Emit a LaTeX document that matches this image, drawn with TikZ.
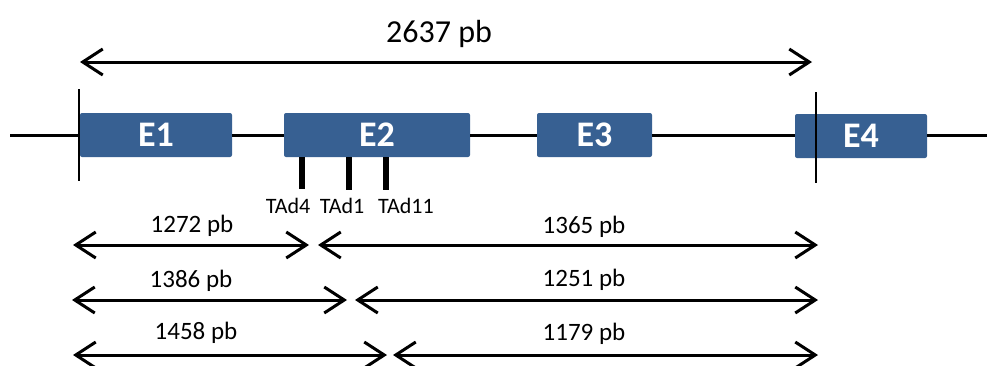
\documentclass[tikz,border=0pt]{standalone}
\usepackage{fontspec}
\setmainfont{Carlito}
\usetikzlibrary{arrows.meta}
\definecolor{exonblue}{RGB}{55,96,146}
\tikzset{
  exon/.style={fill=exonblue, draw=none, rounded corners=2pt, minimum height=44pt,
    inner sep=0pt, text=white, font=\fontsize{36}{40}\selectfont\bfseries},
  intron/.style={line width=3pt},
  tick/.style={line width=2.6pt},
  site/.style={line width=6pt},
  span/.style={line width=3pt, {Straight Barb[length=20pt,width=26pt,line width=3pt]}-{Straight Barb[length=20pt,width=26pt,line width=3pt]}},
  lenlabel/.style={anchor=base, inner sep=0pt, font=\fontsize{25}{28}\selectfont},
  toplabel/.style={anchor=base, inner sep=0pt, font=\fontsize{32}{36}\selectfont},
  sitelabel/.style={anchor=base, inner sep=0pt, font=\fontsize{22}{24}\selectfont}
}
\begin{document}
\begin{tikzpicture}[x=1pt, y=-1pt]
\useasboundingbox (0,0) rectangle (987,365);

% gene backbone ends
\coordinate (gL) at (10,135);
\coordinate (gR) at (987,135);

% exons
\node[exon, minimum width=152pt] (E1) at (156,135) {E1};
\node[exon, minimum width=186pt] (E2) at (377,135) {E2};
\node[exon, minimum width=115pt] (E3) at (594.5,135) {E3};
\node[exon, minimum width=132pt] (E4) at (861,136) {E4};

% introns
\draw[intron] (gL) -- (E1.west |- gL);
\draw[intron] (E1.east |- gL) -- (E2.west |- gL);
\draw[intron] (E2.east |- gL) -- (E3.west |- gL);
\draw[intron] (E3.east |- gL) -- (E4.west |- gL);
\draw[intron] (E4.east |- gL) -- (gR);

% start / end markers
\coordinate (s1) at (79,89);  \coordinate (s2) at (79,181);
\coordinate (t1) at (816,92); \coordinate (t2) at (816,183);
\draw[tick] (s1) -- (s2);
\draw[tick] (t1) -- (t2);

% primer sites on exon 2
\coordinate (p4a) at (302,157);  \coordinate (p4b) at (302,189);
\coordinate (p1a) at (349,157);  \coordinate (p1b) at (349,190);
\coordinate (p11a) at (386,157); \coordinate (p11b) at (386,190);
\draw[site] (p4a) -- (p4b);
\draw[site] (p1a) -- (p1b);
\draw[site] (p11a) -- (p11b);
\node[sitelabel] (l4) at (288,213) {TAd4};
\node[sitelabel] (l1) at (342,213) {TAd1};
\node[sitelabel] (l11) at (406,213) {TAd11};

% total length
\coordinate (a0) at (80,62); \coordinate (b0) at (812,62);
\draw[span] (a0) -- (b0);
\node[toplabel] (tot) at (439,42) {2637 pb};

% fragment lengths
\coordinate (a1) at (73,245);  \coordinate (m1a) at (309,245);
\coordinate (m1b) at (318,245); \coordinate (b1) at (818,245);
\draw[span] (a1) -- (m1a);
\draw[span] (m1b) -- (b1);
\node[lenlabel] (f1a) at (192,232) {1272 pb};
\node[lenlabel] (f1b) at (584,233) {1365 pb};

\coordinate (a2) at (72,300);  \coordinate (m2a) at (347,300);
\coordinate (m2b) at (355,300); \coordinate (b2) at (818,300);
\draw[span] (a2) -- (m2a);
\draw[span] (m2b) -- (b2);
\node[lenlabel] (f2a) at (191,287) {1386 pb};
\node[lenlabel] (f2b) at (584,286) {1251 pb};

\coordinate (a3) at (73,355);  \coordinate (m3a) at (387,355);
\coordinate (m3b) at (393,355); \coordinate (b3) at (818,355);
\draw[span] (a3) -- (m3a);
\draw[span] (m3b) -- (b3);
\node[lenlabel] (f3a) at (196,339) {1458 pb};
\node[lenlabel] (f3b) at (584,340) {1179 pb};
\end{tikzpicture}
\end{document}
